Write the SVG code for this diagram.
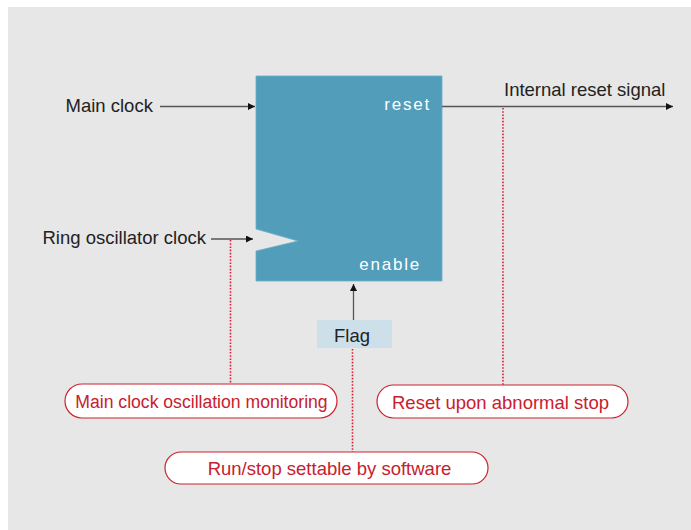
<svg xmlns="http://www.w3.org/2000/svg" width="691" height="530" viewBox="0 0 691 530">
<defs>
<style>
.t{font-family:"Liberation Sans",Arial,sans-serif;font-size:18.5px;fill:#222}
.w{font-family:"Liberation Sans",Arial,sans-serif;font-size:17px;fill:#fff;letter-spacing:1.8px}
.r{font-family:"Liberation Sans",Arial,sans-serif;font-size:18.5px;fill:#c8202e}
.pill{fill:#fff;stroke:#d0202e;stroke-width:1.2}
.ln{stroke:#555;stroke-width:1.3;fill:none}
.dot{stroke:#e02030;stroke-width:1.6;stroke-dasharray:1.6 1.6;fill:none}
</style>
<marker id="ah" markerWidth="8" markerHeight="8" refX="7" refY="3.5" orient="auto" markerUnits="userSpaceOnUse">
<path d="M0,0 L7,3.5 L0,7 Z" fill="#111"/>
</marker>
</defs>
<rect x="8" y="7" width="683" height="523" fill="#e6e7e6"/>
<g id="block">
<path d="M256,76 H442 V281 H256 V251 L298,241 L256,229 Z" fill="#519dba" stroke="#6aaec8" stroke-width="0.8"/>
<text class="w" x="431" y="110" text-anchor="end">reset</text>
<text class="w" x="421" y="270" text-anchor="end">enable</text>
</g>
<g id="flag">
<rect x="317" y="320" width="75" height="28" fill="#cde0ea"/>
<text class="t" x="352" y="342" text-anchor="middle">Flag</text>
</g>
<g id="labels">
<text class="t" x="65.5" y="112">Main clock</text>
<text class="t" x="42.5" y="244">Ring oscillator clock</text>
<text class="t" x="504" y="96">Internal reset signal</text>
</g>
<g id="connectors">
<line class="ln" x1="160" y1="106.5" x2="255" y2="106.5" marker-end="url(#ah)"/>
<line class="ln" x1="211" y1="239" x2="253" y2="239" marker-end="url(#ah)"/>
<line class="ln" x1="442" y1="106.5" x2="673" y2="106.5" marker-end="url(#ah)"/>
<line class="ln" x1="353.5" y1="320" x2="353.5" y2="284" marker-end="url(#ah)"/>
<line class="dot" x1="230.5" y1="240" x2="230.5" y2="384"/>
<line class="dot" x1="503" y1="108" x2="503" y2="385"/>
<line class="dot" x1="352.5" y1="349" x2="352.5" y2="452"/>
</g>
<g id="pill1">
<rect class="pill" x="65" y="384" width="272" height="34" rx="17"/>
<text class="r" x="201.5" y="407.5" text-anchor="middle" style="font-size:17.6px">Main clock oscillation monitoring</text>
</g>
<g id="pill2">
<rect class="pill" x="377" y="385" width="251" height="33" rx="16.5"/>
<text class="r" x="500.5" y="408.5" text-anchor="middle">Reset upon abnormal stop</text>
</g>
<g id="pill3">
<rect class="pill" x="165" y="452" width="323" height="32" rx="16"/>
<text class="r" x="329.5" y="475" text-anchor="middle">Run/stop settable by software</text>
</g>
</svg>
